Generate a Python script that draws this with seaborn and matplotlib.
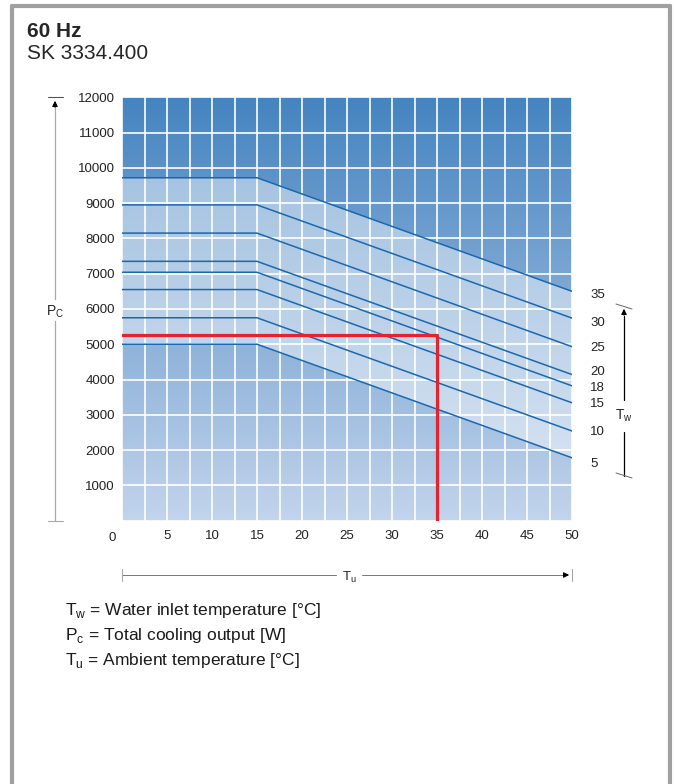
import numpy as np
import pandas as pd
import seaborn as sns
import matplotlib.pyplot as plt
from matplotlib.colors import LinearSegmentedColormap

# water inlet temperatures (curve labels) and cooling output at Tu = 0/15 and Tu = 50
tw_values = [35, 30, 25, 20, 18, 15, 10, 5]
pc_flat = [9720, 8950, 8150, 7350, 7040, 6550, 5750, 5000]
pc_at_50 = [6500, 5740, 4930, 4140, 3820, 3340, 2540, 1780]
label_y = [6400, 5600, 4900, 4200, 3750, 3300, 2500, 1600]
tu_points = [0, 15, 50]

# operating point (red)
red_tu = [0, 35, 35]
red_pc = [5250, 5250, 0]

legend_lines = [
    r"T$_\mathrm{w}$ = Water inlet temperature [°C]",
    r"P$_\mathrm{c}$ = Total cooling output [W]",
    r"T$_\mathrm{u}$ = Ambient temperature [°C]",
]

sns.set_style("white")
plt.rcParams["font.family"] = ["Liberation Sans", "DejaVu Sans"]
plt.rcParams["mathtext.fontset"] = "custom"
plt.rcParams["mathtext.rm"] = "Liberation Sans"

rows = []
for tw, a, b in zip(tw_values, pc_flat, pc_at_50):
    for tu, pc in zip(tu_points, [a, a, b]):
        rows.append({"Tu": tu, "Pc": pc, "Tw": tw})
df = pd.DataFrame(rows)

fig = plt.figure(figsize=(6.74, 7.84), dpi=100)
ax = fig.add_axes([122 / 674, 1 - 520.6 / 784, 450 / 674, 423.3 / 784])

# background gradient + lighter band between the 5 and 35 curves
cmap = LinearSegmentedColormap.from_list("bg", ["#c3d4ec", "#4584c0"])
grad = np.linspace(0, 1, 256).reshape(-1, 1)
ax.imshow(grad, extent=[0, 50, 0, 12000], origin="lower", aspect="auto",
          cmap=cmap, zorder=0)
top = df[df.Tw == 35].Pc.values
bot = df[df.Tw == 5].Pc.values
ax.fill_between(tu_points, bot, top, color="white", alpha=0.45, lw=0, zorder=1)

sns.lineplot(data=df, x="Tu", y="Pc", units="Tw", estimator=None, sort=False,
             color="#1a68b0", lw=1.1, ax=ax, zorder=3, legend=False)
sns.lineplot(x=red_tu, y=red_pc, estimator=None, sort=False, color="#e8222c",
             lw=2.3, ax=ax, zorder=4)

for tw, ly in zip(tw_values, label_y):
    ax.annotate(str(tw), xy=(50, ly), xytext=(13, 0), textcoords="offset points",
                va="center", ha="left", fontsize=9.5, color="#222222",
                annotation_clip=False)

ax.set_xlim(0, 50)
ax.set_ylim(0, 12000)
ax.set_xticks(range(0, 55, 5))
ax.set_xticks(np.arange(0, 50.1, 2.5), minor=True)
ax.set_yticks(range(0, 13000, 1000))
ax.set_yticklabels([""] + [str(v) for v in range(1000, 13000, 1000)])
ax.set_xticklabels([""] + [str(v) for v in range(5, 55, 5)])
ax.annotate("0", xy=(0, 0), xytext=(-7, -8), textcoords="offset points",
            ha="center", va="top", fontsize=9.5, color="#222222",
            annotation_clip=False)
ax.tick_params(axis="both", which="both", length=0, labelsize=9.5,
               labelcolor="#222222")
ax.tick_params(axis="x", pad=6.5)
ax.tick_params(axis="y", pad=5)
ax.set_axisbelow("line")
ax.grid(True, which="both", axis="x", color="white", lw=1.2)
ax.grid(True, which="major", axis="y", color="white", lw=1.2)
ax.set_xlabel("")
ax.set_ylabel("")
for s in ax.spines.values():
    s.set_visible(False)

# overlay in pixel coordinates for frame, arrows and notes
ov = fig.add_axes([0, 0, 1, 1], zorder=-1)
ov.set_xlim(0, 674)
ov.set_ylim(784, 0)
ov.axis("off")

frame = "#a0a0a0"
ov.plot([12, 12], [6, 784], color=frame, lw=3)
ov.plot([12, 670], [6, 6], color=frame, lw=3)
ov.plot([670, 670], [6, 784], color=frame, lw=3)

ov.text(27, 37, "60 Hz", fontsize=15, fontweight="bold", va="baseline")
ov.text(27, 59, "SK 3334.400", fontsize=15, va="baseline")

g = "#a8a8a8"
arrow = dict(arrowstyle="-|>", color="black", lw=0.8, mutation_scale=8)
# Pc axis
ov.plot([55, 55], [321, 521], color=g, lw=0.9)
ov.plot([55, 55], [105, 299], color=g, lw=0.9)
ov.plot([48, 63], [97, 97], color="#555555", lw=0.8)
ov.plot([48, 63], [521, 521], color=g, lw=0.8)
ov.annotate("", xy=(55, 98), xytext=(55, 110), arrowprops=arrow)
ov.text(55, 312, r"P$_\mathrm{C}$", fontsize=10, ha="center", va="center")

# Tu axis
ov.plot([122, 336], [575, 575], color="#777777", lw=0.7)
ov.plot([362, 566], [575, 575], color="#777777", lw=0.7)
ov.plot([122, 122], [569, 581], color=g, lw=0.8)
ov.plot([572, 572], [569, 581], color=g, lw=0.8)
ov.annotate("", xy=(572, 575), xytext=(562, 575), arrowprops=arrow)
ov.text(349, 577, r"T$_\mathrm{u}$", fontsize=9.5, ha="center", va="center")

# Tw axis
ov.plot([624, 624], [316, 400], color="black", lw=0.9)
ov.plot([624, 624], [432, 476], color="black", lw=0.9)
ov.plot([616, 632], [304, 309], color="#666666", lw=0.7)
ov.plot([616, 632], [473, 478], color="#666666", lw=0.7)
ov.annotate("", xy=(624, 306), xytext=(624, 318), arrowprops=arrow)
ov.text(624, 416, r"T$_\mathrm{w}$", fontsize=10, ha="center", va="center")

for i, line in enumerate(legend_lines):
    ov.text(65, 610 + 25.5 * i, line, fontsize=12.5, va="center", ha="left",
            color="#1a1a1a")

fig.savefig("out.png", dpi=100)
